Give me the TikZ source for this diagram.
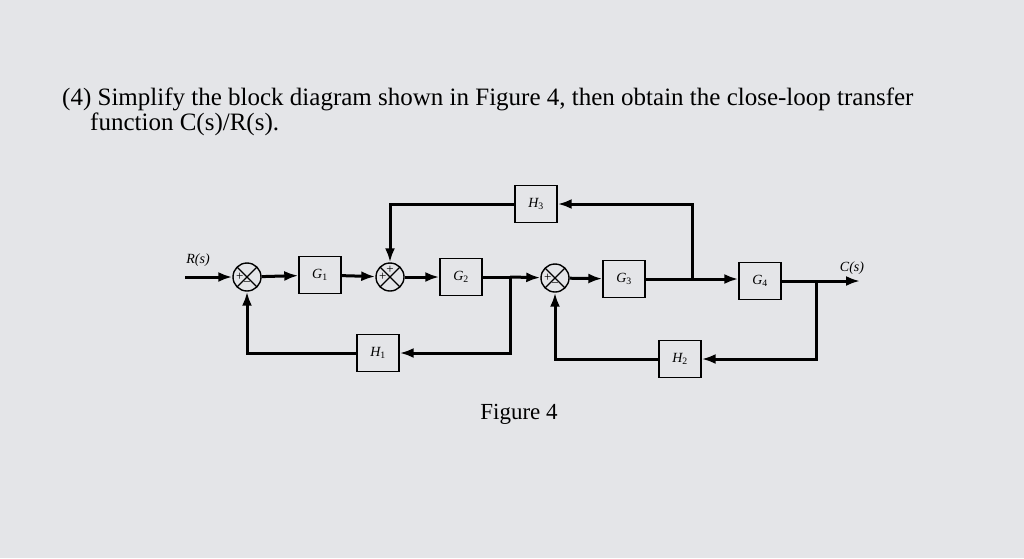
\documentclass[tikz,border=0pt]{standalone}
\usepackage{fontspec}
\setmainfont{Liberation Serif}
\usetikzlibrary{arrows.meta}
\definecolor{bg}{HTML}{E4E5E8}
\newcommand{\sbs}[1]{\textsubscript{\upshape #1}}
\begin{document}
\begin{tikzpicture}[x=1pt,y=-1pt,
  blk/.style={draw,line width=1.4pt,fill=bg,minimum width=42pt,minimum height=37pt,inner sep=0pt,font=\fontsize{14}{15}\selectfont\itshape},
  sumj/.style={draw,circle,line width=1.4pt,minimum size=28pt,inner sep=0pt,path picture={\draw[line width=1.2pt] (path picture bounding box.north west)--(path picture bounding box.south east) (path picture bounding box.north east)--(path picture bounding box.south west);}},
  sig/.style={line width=3pt,-{Latex[length=14pt,width=10pt]}},
  ln/.style={line width=3pt},
  sg/.style={font=\fontsize{13}{14}\selectfont,inner sep=0pt}]
\fill[bg] (0,0) rectangle (1024,558);
\useasboundingbox (0,0) rectangle (1024,558);
\node[anchor=base west,inner sep=0pt,font=\fontsize{25}{27}\selectfont] (t1) at (62,105) {(4) Simplify the block diagram shown in Figure 4, then obtain the close-loop transfer};
\node[anchor=base west,inner sep=0pt,font=\fontsize{25}{27}\selectfont] (t2) at (90,130) {function C(s)/R(s).};
\node[inner sep=0pt,font=\fontsize{23}{25}\selectfont] (fig) at (519,414) {Figure 4};

\node[sumj] (s1) at (247,277) {};
\node[sumj] (s2) at (390,277) {};
\node[sumj] (s3) at (555,278) {};
\node[blk] (g1) at (320,275) {G\sbs{1}};
\node[blk] (g2) at (461,277) {G\sbs{2}};
\node[blk] (g3) at (624,279) {G\sbs{3}};
\node[blk] (g4) at (760,281) {G\sbs{4}};
\node[blk] (h1) at (378,353) {H\sbs{1}};
\node[blk] (h2) at (680,359) {H\sbs{2}};
\node[blk] (h3) at (536,204) {H\sbs{3}};

\node[sg,anchor=west] at ([xshift=-11pt]s1.center) {+};
\node[sg] at ([yshift=-7pt]s1.center) {−};
\node[sg,anchor=west] at ([xshift=-11pt]s2.center) {+};
\node[sg] at ([yshift=7pt]s2.center) {+};
\node[sg,anchor=west] at ([xshift=-11pt]s3.center) {+};
\node[sg] at ([yshift=-7pt]s3.center) {−};

\coordinate (in) at (185,277);
\coordinate (b1) at (510,277);
\coordinate (b2) at (692,279);
\coordinate (b3) at (816,281);
\coordinate (out) at (860,281);
\node[font=\fontsize{14}{15}\selectfont\itshape,inner sep=0pt] (rl) at (198,260) {R(s)};
\node[font=\fontsize{14}{15}\selectfont\itshape,inner sep=0pt] (cl) at (852,268) {C(s)};

\draw[sig] (in) -- (s1);
\draw[sig] (s1) -- (g1);
\draw[sig] (g1) -- (s2);
\draw[sig] (s2) -- (g2);
\draw[ln] (g2) -- (b1);
\draw[sig] (b1) -- (s3);
\draw[sig] (s3) -- (g3);
\draw[sig] (g3.east) -- (g4.west |- g3.east);
\draw[sig] (g4) -- (out);
\draw[sig] (b1) |- (h1);
\draw[sig] (h1) -| (s1);
\draw[sig] (b2) |- (h3);
\draw[sig] (h3) -| (s2);
\draw[sig] (b3) |- (h2);
\draw[sig] (h2) -| (s3);
\end{tikzpicture}
\end{document}
